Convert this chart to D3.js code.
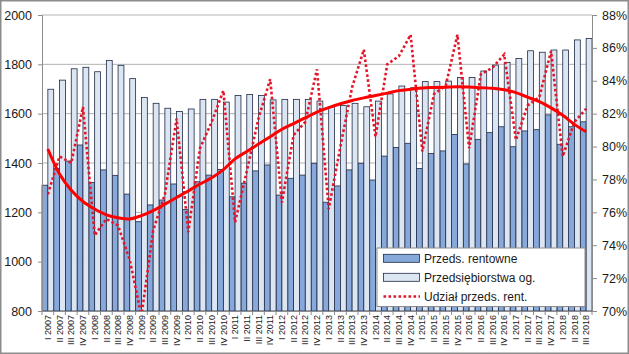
<!DOCTYPE html>
<html><head><meta charset="utf-8">
<script src="https://cdn.jsdelivr.net/npm/d3@7/dist/d3.min.js"></script>
<style>
body{margin:0;background:#fff}
svg{display:block}
text{font-family:"Liberation Sans",Arial,sans-serif;fill:#1a1a1a}
</style>
</head><body>
<svg id="chart" width="629" height="354"></svg>
<script>
const quarters = [
  "I 2007","II 2007","III 2007","IV 2007",
  "I 2008","II 2008","III 2008","IV 2008",
  "I 2009","II 2009","III 2009","IV 2009",
  "I 2010","II 2010","III 2010","IV 2010",
  "I 2011","II 2011","III 2011","IV 2011",
  "I 2012","II 2012","III 2012","IV 2012",
  "I 2013","II 2013","III 2013","IV 2013",
  "I 2014","II 2014","III 2014","IV 2014",
  "I 2015","II 2015","III 2015","IV 2015",
  "I 2016","II 2016","III 2016","IV 2016",
  "I 2017","II 2017","III 2017","IV 2017",
  "I 2018","II 2018","III 2018"
];
// Przeds. rentowne (left axis)
const rentowne = [
  1310,1378,1408,1473, 1321,1372,1350,1274, 1162,1230,1250,1315,
  1211,1324,1351,1374, 1263,1318,1368,1392, 1270,1338,1351,1399,
  1241,1307,1372,1399, 1331,1428,1463,1480, 1378,1439,1449,1516,
  1396,1496,1523,1547, 1466,1530,1535,1595, 1476,1547,1567
];
// Przedsiebiorstwa ogolem (left axis)
const ogolem = [
  1699,1736,1782,1788, 1770,1816,1796,1742, 1666,1642,1622,1609,
  1619,1658,1658,1647, 1674,1678,1674,1656, 1658,1658,1658,1651,
  1628,1633,1642,1628, 1651,1680,1712,1705, 1730,1730,1732,1747,
  1747,1773,1797,1808, 1824,1855,1849,1858, 1858,1899,1905
];
// Udzial przeds. rent. (%) (right axis)
const udzial = [
  77.1,79.4,79.0,82.4, 74.6,75.6,75.2,73.1, 69.7,74.9,77.1,81.7,
  74.8,79.9,81.5,83.4, 75.4,78.5,81.7,84.1, 76.6,80.7,81.5,84.7,
  76.2,80.0,83.6,85.9, 80.6,85.0,85.5,86.8, 79.7,83.2,83.7,86.8,
  79.9,84.4,84.8,85.6, 80.4,82.5,83.0,85.8, 79.4,81.5,82.3
];
// trend line of the share (%) (right axis)
const trend = [
  79.85,78.33,77.34,76.66, 76.2,75.85,75.67,75.6, 75.8,76.1,76.5,76.9,
  77.3,77.72,78.1,78.6, 79.25,79.7,80.15,80.6, 81.05,81.4,81.75,82.1,
  82.37,82.6,82.8,82.96, 83.1,83.25,83.4,83.48, 83.56,83.59,83.61,83.63,
  83.62,83.58,83.54,83.45, 83.28,83.0,82.73,82.35, 81.9,81.35,80.9
];
const leftTicks = [800,1000,1200,1400,1600,1800,2000];
const rightTicks = [70,72,74,76,78,80,82,84,86,88];
const legendLabels = ["Przeds. rentowne","Przedsiębiorstwa og.","Udział przeds. rent."];

const W = 629, H = 354;
const L = 42, R = 592, T = 15, B = 311;
const cDark = "#87a8da", cLight = "#dce6f2", cEdge = "#1f2a44";
const cDot = "#e3162b", cTrend = "#ff0000";

const svg = d3.select("#chart");
svg.append("rect").attr("x",0.75).attr("y",0.75).attr("width",W-1.5).attr("height",H-1.5)
  .attr("fill","#fff").attr("stroke","#8c8c8c").attr("stroke-width",1.5);

const x = d3.scaleBand().domain(quarters).range([L,R]).paddingInner(0).paddingOuter(0);
const yL = d3.scaleLinear().domain([800,2000]).range([B,T]);
const yR = d3.scaleLinear().domain([70,88]).range([B,T]);
const bw = x.bandwidth()/2;

// gridlines
svg.append("g").selectAll("line").data(leftTicks).join("line")
  .attr("x1",L).attr("x2",R).attr("y1",d=>yL(d)).attr("y2",d=>yL(d))
  .attr("stroke","#b3b3b3").attr("stroke-width",1);

// bars
const g = svg.append("g");
g.selectAll("rect.d").data(quarters).join("rect").attr("class","d")
  .attr("x",q=>x(q)).attr("width",bw)
  .attr("y",(q,i)=>yL(rentowne[i])).attr("height",(q,i)=>B-yL(rentowne[i]))
  .attr("fill",cDark).attr("stroke",cEdge).attr("stroke-width",0.8);
g.selectAll("rect.l").data(quarters).join("rect").attr("class","l")
  .attr("x",q=>x(q)+bw).attr("width",bw)
  .attr("y",(q,i)=>yL(ogolem[i])).attr("height",(q,i)=>B-yL(ogolem[i]))
  .attr("fill",cLight).attr("stroke",cEdge).attr("stroke-width",0.8);

// axes
const axL = svg.append("g").attr("transform",`translate(${L},0)`)
  .call(d3.axisLeft(yL).tickValues(leftTicks).tickSize(4).tickPadding(6).tickFormat(d3.format("d")));
const axR = svg.append("g").attr("transform",`translate(${R},0)`)
  .call(d3.axisRight(yR).tickValues(rightTicks).tickSize(5).tickPadding(5).tickFormat(d=>d+"%"));
const axB = svg.append("g").attr("transform",`translate(0,${B})`)
  .call(d3.axisBottom(x).tickSize(0).tickFormat(""));
[axL,axR,axB].forEach(a=>{
  a.selectAll("path.domain").attr("stroke","#8c8c8c");
  a.selectAll(".tick line").attr("stroke","#8c8c8c");
  a.selectAll(".tick text").attr("font-size","12.5px").attr("fill","#1a1a1a")
   .attr("font-family",'"Liberation Sans",Arial,sans-serif');
});
// category boundary ticks
svg.append("g").selectAll("line").data(quarters.concat(["end"])).join("line")
  .attr("x1",(q,i)=>i<quarters.length?x(q):R).attr("x2",(q,i)=>i<quarters.length?x(q):R)
  .attr("y1",B).attr("y2",B+4).attr("stroke","#8c8c8c");
// category labels
svg.append("g").selectAll("text").data(quarters).join("text")
  .attr("transform",q=>`translate(${x(q)+bw},${B+4}) rotate(-90)`)
  .attr("text-anchor","end").attr("dy","0.35em").attr("font-size","9px")
  .text(q=>q);

// lines (clipped to plot)
svg.append("clipPath").attr("id","clip").append("rect")
  .attr("x",L-6).attr("y",T).attr("width",R-L+12).attr("height",B-T);
const lg = svg.append("g").attr("clip-path","url(#clip)");
const line = d3.line().x((d,i)=>x(quarters[i])+bw).y(d=>yR(d));
lg.append("path").datum(udzial).attr("d",line).attr("fill","none")
  .attr("stroke",cDot).attr("stroke-width",2.6).attr("stroke-dasharray","2.6 2.4");
const curve = d3.line().x((d,i)=>x(quarters[i])+bw).y(d=>yR(d)).curve(d3.curveCatmullRom);
lg.append("path").datum(trend).attr("d",curve).attr("fill","none")
  .attr("stroke",cTrend).attr("stroke-width",3);

// legend
const leg = svg.append("g");
leg.append("rect").attr("x",377).attr("y",248).attr("width",208).attr("height",58.5)
  .attr("fill","#fff").attr("stroke","#8c8c8c").attr("stroke-width",1);
const rowsY = [258.3,277.3,296.5];
leg.append("rect").attr("x",383.5).attr("y",rowsY[0]-4).attr("width",36).attr("height",8)
  .attr("fill",cDark).attr("stroke",cEdge).attr("stroke-width",0.8);
leg.append("rect").attr("x",383.5).attr("y",rowsY[1]-4).attr("width",36).attr("height",8)
  .attr("fill",cLight).attr("stroke",cEdge).attr("stroke-width",0.8);
leg.append("line").attr("x1",383.5).attr("x2",420).attr("y1",rowsY[2]).attr("y2",rowsY[2])
  .attr("stroke",cDot).attr("stroke-width",2.6).attr("stroke-dasharray","2.6 2.4");
leg.selectAll("text").data(legendLabels).join("text")
  .attr("x",424).attr("y",(d,i)=>rowsY[i]).attr("dy","0.36em").attr("font-size","12px")
  .text(d=>d);
</script>
</body></html>
